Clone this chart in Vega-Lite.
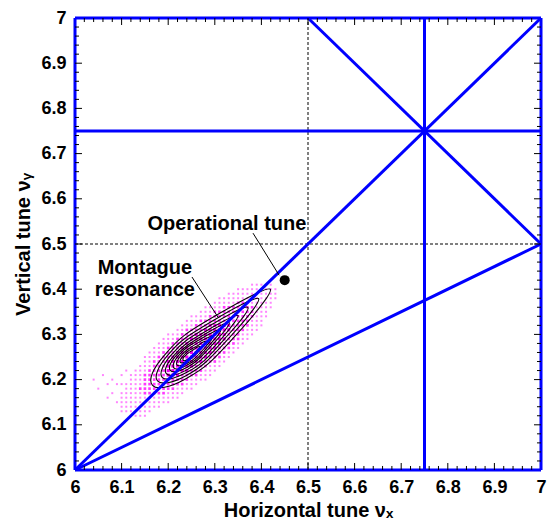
{
  "$schema": "https://vega.github.io/schema/vega-lite/v6.json",
  "width": 466,
  "height": 452,
  "autosize": {"type": "none"},
  "padding": {"left": 75, "top": 18, "right": 7, "bottom": 50},
  "background": "white",
  "config": {
    "view": {"stroke": null},
    "font": "Liberation Sans",
    "axis": {
      "grid": false,
      "domain": false,
      "ticks": false,
      "labelFont": "Liberation Sans",
      "labelFontWeight": "bold",
      "labelFontSize": 18,
      "labelColor": "black",
      "labelFlush": false,
      "titleFont": "Liberation Sans",
      "titleFontWeight": "bold",
      "titleFontSize": 20,
      "titleColor": "black"
    }
  },
  "datasets": {
    "dots": [
      {"x":6.12,"y":6.12,"d":1},{"x":6.13,"y":6.12,"d":1},{"x":6.14,"y":6.12,"d":1},{"x":6.15,"y":6.12,"d":1},
      {"x":6.10,"y":6.13,"d":1},{"x":6.11,"y":6.13,"d":1},{"x":6.12,"y":6.13,"d":1},{"x":6.13,"y":6.13,"d":1},{"x":6.14,"y":6.13,"d":1},{"x":6.15,"y":6.13,"d":1},{"x":6.16,"y":6.13,"d":1},
      {"x":6.10,"y":6.14,"d":1},{"x":6.11,"y":6.14,"d":1},{"x":6.12,"y":6.14,"d":1},{"x":6.13,"y":6.14,"d":1},{"x":6.14,"y":6.14,"d":1},{"x":6.15,"y":6.14,"d":1},{"x":6.16,"y":6.14,"d":1},{"x":6.17,"y":6.14,"d":1},{"x":6.18,"y":6.14,"d":1},
      {"x":6.09,"y":6.15,"d":1},{"x":6.10,"y":6.15,"d":1},{"x":6.11,"y":6.15,"d":1},{"x":6.12,"y":6.15,"d":1},{"x":6.13,"y":6.15,"d":1},{"x":6.14,"y":6.15,"d":1},{"x":6.15,"y":6.15,"d":1},{"x":6.16,"y":6.15,"d":1},{"x":6.17,"y":6.15,"d":1},{"x":6.18,"y":6.15,"d":1},{"x":6.19,"y":6.15,"d":1},{"x":6.20,"y":6.15,"d":1},
      {"x":6.07,"y":6.16,"d":1},{"x":6.10,"y":6.16,"d":1},{"x":6.11,"y":6.16,"d":1},{"x":6.12,"y":6.16,"d":1},{"x":6.13,"y":6.16,"d":1},{"x":6.14,"y":6.16,"d":1},{"x":6.15,"y":6.16,"d":1},{"x":6.16,"y":6.16,"d":1},{"x":6.17,"y":6.16,"d":1},{"x":6.18,"y":6.16,"d":1},{"x":6.19,"y":6.16,"d":1},{"x":6.20,"y":6.16,"d":1},{"x":6.21,"y":6.16,"d":1},{"x":6.22,"y":6.16,"d":1},
      {"x":6.08,"y":6.17,"d":1},{"x":6.10,"y":6.17,"d":1},{"x":6.11,"y":6.17,"d":1},{"x":6.12,"y":6.17,"d":1},{"x":6.13,"y":6.17,"d":1},{"x":6.14,"y":6.17,"d":1},{"x":6.15,"y":6.17,"d":2},{"x":6.16,"y":6.17,"d":2},{"x":6.17,"y":6.17,"d":2},{"x":6.18,"y":6.17,"d":2},{"x":6.19,"y":6.17,"d":2},{"x":6.20,"y":6.17,"d":1},{"x":6.21,"y":6.17,"d":1},{"x":6.22,"y":6.17,"d":1},{"x":6.23,"y":6.17,"d":1},
      {"x":6.05,"y":6.18,"d":1},{"x":6.11,"y":6.18,"d":1},{"x":6.12,"y":6.18,"d":1},{"x":6.13,"y":6.18,"d":1},{"x":6.14,"y":6.18,"d":2},{"x":6.15,"y":6.18,"d":2},{"x":6.16,"y":6.18,"d":2},{"x":6.17,"y":6.18,"d":2},{"x":6.18,"y":6.18,"d":2},{"x":6.19,"y":6.18,"d":2},{"x":6.20,"y":6.18,"d":2},{"x":6.21,"y":6.18,"d":2},{"x":6.22,"y":6.18,"d":1},{"x":6.23,"y":6.18,"d":1},{"x":6.24,"y":6.18,"d":1},{"x":6.25,"y":6.18,"d":1},
      {"x":6.07,"y":6.19,"d":1},{"x":6.09,"y":6.19,"d":1},{"x":6.10,"y":6.19,"d":1},{"x":6.11,"y":6.19,"d":1},{"x":6.12,"y":6.19,"d":1},{"x":6.13,"y":6.19,"d":1},{"x":6.14,"y":6.19,"d":1},{"x":6.15,"y":6.19,"d":2},{"x":6.16,"y":6.19,"d":2},{"x":6.17,"y":6.19,"d":2},{"x":6.18,"y":6.19,"d":2},{"x":6.19,"y":6.19,"d":2},{"x":6.20,"y":6.19,"d":2},{"x":6.21,"y":6.19,"d":2},{"x":6.22,"y":6.19,"d":2},{"x":6.23,"y":6.19,"d":2},{"x":6.24,"y":6.19,"d":1},{"x":6.25,"y":6.19,"d":1},{"x":6.26,"y":6.19,"d":1},
      {"x":6.04,"y":6.20,"d":1},{"x":6.08,"y":6.20,"d":1},{"x":6.12,"y":6.20,"d":1},{"x":6.13,"y":6.20,"d":1},{"x":6.14,"y":6.20,"d":1},{"x":6.15,"y":6.20,"d":2},{"x":6.16,"y":6.20,"d":2},{"x":6.17,"y":6.20,"d":2},{"x":6.18,"y":6.20,"d":2},{"x":6.19,"y":6.20,"d":2},{"x":6.20,"y":6.20,"d":2},{"x":6.21,"y":6.20,"d":2},{"x":6.22,"y":6.20,"d":2},{"x":6.23,"y":6.20,"d":2},{"x":6.24,"y":6.20,"d":2},{"x":6.25,"y":6.20,"d":1},{"x":6.26,"y":6.20,"d":1},{"x":6.27,"y":6.20,"d":1},{"x":6.28,"y":6.20,"d":1},
      {"x":6.06,"y":6.21,"d":1},{"x":6.10,"y":6.21,"d":1},{"x":6.12,"y":6.21,"d":1},{"x":6.13,"y":6.21,"d":1},{"x":6.14,"y":6.21,"d":1},{"x":6.15,"y":6.21,"d":2},{"x":6.16,"y":6.21,"d":2},{"x":6.17,"y":6.21,"d":2},{"x":6.18,"y":6.21,"d":2},{"x":6.19,"y":6.21,"d":2},{"x":6.20,"y":6.21,"d":3},{"x":6.21,"y":6.21,"d":3},{"x":6.22,"y":6.21,"d":3},{"x":6.23,"y":6.21,"d":2},{"x":6.24,"y":6.21,"d":2},{"x":6.25,"y":6.21,"d":2},{"x":6.26,"y":6.21,"d":2},{"x":6.27,"y":6.21,"d":1},{"x":6.28,"y":6.21,"d":1},{"x":6.29,"y":6.21,"d":1},
      {"x":6.11,"y":6.22,"d":1},{"x":6.13,"y":6.22,"d":1},{"x":6.14,"y":6.22,"d":1},{"x":6.15,"y":6.22,"d":1},{"x":6.16,"y":6.22,"d":2},{"x":6.17,"y":6.22,"d":2},{"x":6.18,"y":6.22,"d":2},{"x":6.19,"y":6.22,"d":2},{"x":6.20,"y":6.22,"d":3},{"x":6.21,"y":6.22,"d":3},{"x":6.22,"y":6.22,"d":3},{"x":6.23,"y":6.22,"d":3},{"x":6.24,"y":6.22,"d":3},{"x":6.25,"y":6.22,"d":2},{"x":6.26,"y":6.22,"d":2},{"x":6.27,"y":6.22,"d":2},{"x":6.28,"y":6.22,"d":1},{"x":6.29,"y":6.22,"d":1},{"x":6.30,"y":6.22,"d":1},
      {"x":6.14,"y":6.23,"d":1},{"x":6.15,"y":6.23,"d":1},{"x":6.16,"y":6.23,"d":1},{"x":6.17,"y":6.23,"d":2},{"x":6.18,"y":6.23,"d":2},{"x":6.19,"y":6.23,"d":2},{"x":6.20,"y":6.23,"d":3},{"x":6.21,"y":6.23,"d":3},{"x":6.22,"y":6.23,"d":3},{"x":6.23,"y":6.23,"d":3},{"x":6.24,"y":6.23,"d":3},{"x":6.25,"y":6.23,"d":3},{"x":6.26,"y":6.23,"d":2},{"x":6.27,"y":6.23,"d":2},{"x":6.28,"y":6.23,"d":2},{"x":6.29,"y":6.23,"d":1},{"x":6.30,"y":6.23,"d":1},{"x":6.31,"y":6.23,"d":1},
      {"x":6.15,"y":6.24,"d":1},{"x":6.16,"y":6.24,"d":1},{"x":6.17,"y":6.24,"d":2},{"x":6.18,"y":6.24,"d":2},{"x":6.19,"y":6.24,"d":2},{"x":6.20,"y":6.24,"d":3},{"x":6.21,"y":6.24,"d":3},{"x":6.22,"y":6.24,"d":3},{"x":6.23,"y":6.24,"d":3},{"x":6.24,"y":6.24,"d":3},{"x":6.25,"y":6.24,"d":3},{"x":6.26,"y":6.24,"d":3},{"x":6.27,"y":6.24,"d":3},{"x":6.28,"y":6.24,"d":2},{"x":6.29,"y":6.24,"d":2},{"x":6.30,"y":6.24,"d":2},{"x":6.31,"y":6.24,"d":1},{"x":6.32,"y":6.24,"d":1},
      {"x":6.15,"y":6.25,"d":1},{"x":6.16,"y":6.25,"d":1},{"x":6.17,"y":6.25,"d":1},{"x":6.18,"y":6.25,"d":2},{"x":6.19,"y":6.25,"d":2},{"x":6.20,"y":6.25,"d":2},{"x":6.21,"y":6.25,"d":3},{"x":6.22,"y":6.25,"d":3},{"x":6.23,"y":6.25,"d":3},{"x":6.24,"y":6.25,"d":3},{"x":6.25,"y":6.25,"d":3},{"x":6.26,"y":6.25,"d":3},{"x":6.27,"y":6.25,"d":3},{"x":6.28,"y":6.25,"d":3},{"x":6.29,"y":6.25,"d":2},{"x":6.30,"y":6.25,"d":2},{"x":6.31,"y":6.25,"d":2},{"x":6.32,"y":6.25,"d":1},{"x":6.33,"y":6.25,"d":1},
      {"x":6.16,"y":6.26,"d":1},{"x":6.17,"y":6.26,"d":1},{"x":6.18,"y":6.26,"d":1},{"x":6.19,"y":6.26,"d":2},{"x":6.20,"y":6.26,"d":2},{"x":6.21,"y":6.26,"d":2},{"x":6.22,"y":6.26,"d":3},{"x":6.23,"y":6.26,"d":3},{"x":6.24,"y":6.26,"d":3},{"x":6.25,"y":6.26,"d":3},{"x":6.26,"y":6.26,"d":3},{"x":6.27,"y":6.26,"d":3},{"x":6.28,"y":6.26,"d":3},{"x":6.29,"y":6.26,"d":3},{"x":6.30,"y":6.26,"d":2},{"x":6.31,"y":6.26,"d":2},{"x":6.32,"y":6.26,"d":2},{"x":6.33,"y":6.26,"d":1},{"x":6.34,"y":6.26,"d":1},
      {"x":6.17,"y":6.27,"d":1},{"x":6.18,"y":6.27,"d":1},{"x":6.19,"y":6.27,"d":1},{"x":6.20,"y":6.27,"d":2},{"x":6.21,"y":6.27,"d":2},{"x":6.22,"y":6.27,"d":2},{"x":6.23,"y":6.27,"d":3},{"x":6.24,"y":6.27,"d":3},{"x":6.25,"y":6.27,"d":3},{"x":6.26,"y":6.27,"d":3},{"x":6.27,"y":6.27,"d":3},{"x":6.28,"y":6.27,"d":3},{"x":6.29,"y":6.27,"d":3},{"x":6.30,"y":6.27,"d":3},{"x":6.31,"y":6.27,"d":2},{"x":6.32,"y":6.27,"d":2},{"x":6.33,"y":6.27,"d":2},{"x":6.34,"y":6.27,"d":1},{"x":6.35,"y":6.27,"d":1},
      {"x":6.18,"y":6.28,"d":1},{"x":6.19,"y":6.28,"d":1},{"x":6.20,"y":6.28,"d":1},{"x":6.21,"y":6.28,"d":2},{"x":6.22,"y":6.28,"d":2},{"x":6.23,"y":6.28,"d":2},{"x":6.24,"y":6.28,"d":3},{"x":6.25,"y":6.28,"d":3},{"x":6.26,"y":6.28,"d":3},{"x":6.27,"y":6.28,"d":3},{"x":6.28,"y":6.28,"d":3},{"x":6.29,"y":6.28,"d":3},{"x":6.30,"y":6.28,"d":3},{"x":6.31,"y":6.28,"d":3},{"x":6.32,"y":6.28,"d":2},{"x":6.33,"y":6.28,"d":2},{"x":6.34,"y":6.28,"d":2},{"x":6.35,"y":6.28,"d":1},{"x":6.36,"y":6.28,"d":1},
      {"x":6.19,"y":6.29,"d":1},{"x":6.20,"y":6.29,"d":1},{"x":6.21,"y":6.29,"d":1},{"x":6.22,"y":6.29,"d":2},{"x":6.23,"y":6.29,"d":2},{"x":6.24,"y":6.29,"d":2},{"x":6.25,"y":6.29,"d":3},{"x":6.26,"y":6.29,"d":3},{"x":6.27,"y":6.29,"d":3},{"x":6.28,"y":6.29,"d":3},{"x":6.29,"y":6.29,"d":3},{"x":6.30,"y":6.29,"d":3},{"x":6.31,"y":6.29,"d":3},{"x":6.32,"y":6.29,"d":3},{"x":6.33,"y":6.29,"d":2},{"x":6.34,"y":6.29,"d":2},{"x":6.35,"y":6.29,"d":2},{"x":6.36,"y":6.29,"d":1},{"x":6.37,"y":6.29,"d":1},
      {"x":6.20,"y":6.30,"d":1},{"x":6.21,"y":6.30,"d":1},{"x":6.22,"y":6.30,"d":1},{"x":6.23,"y":6.30,"d":2},{"x":6.24,"y":6.30,"d":2},{"x":6.25,"y":6.30,"d":2},{"x":6.26,"y":6.30,"d":3},{"x":6.27,"y":6.30,"d":3},{"x":6.28,"y":6.30,"d":3},{"x":6.29,"y":6.30,"d":3},{"x":6.30,"y":6.30,"d":3},{"x":6.31,"y":6.30,"d":3},{"x":6.32,"y":6.30,"d":3},{"x":6.33,"y":6.30,"d":2},{"x":6.34,"y":6.30,"d":2},{"x":6.35,"y":6.30,"d":2},{"x":6.36,"y":6.30,"d":1},{"x":6.37,"y":6.30,"d":1},{"x":6.38,"y":6.30,"d":1},
      {"x":6.22,"y":6.31,"d":1},{"x":6.23,"y":6.31,"d":1},{"x":6.24,"y":6.31,"d":2},{"x":6.25,"y":6.31,"d":2},{"x":6.26,"y":6.31,"d":2},{"x":6.27,"y":6.31,"d":2},{"x":6.28,"y":6.31,"d":3},{"x":6.29,"y":6.31,"d":3},{"x":6.30,"y":6.31,"d":3},{"x":6.31,"y":6.31,"d":3},{"x":6.32,"y":6.31,"d":3},{"x":6.33,"y":6.31,"d":3},{"x":6.34,"y":6.31,"d":2},{"x":6.35,"y":6.31,"d":2},{"x":6.36,"y":6.31,"d":2},{"x":6.37,"y":6.31,"d":1},{"x":6.38,"y":6.31,"d":1},{"x":6.39,"y":6.31,"d":1},
      {"x":6.23,"y":6.32,"d":1},{"x":6.24,"y":6.32,"d":1},{"x":6.25,"y":6.32,"d":1},{"x":6.26,"y":6.32,"d":2},{"x":6.27,"y":6.32,"d":2},{"x":6.28,"y":6.32,"d":2},{"x":6.29,"y":6.32,"d":3},{"x":6.30,"y":6.32,"d":3},{"x":6.31,"y":6.32,"d":3},{"x":6.32,"y":6.32,"d":3},{"x":6.33,"y":6.32,"d":3},{"x":6.34,"y":6.32,"d":2},{"x":6.35,"y":6.32,"d":2},{"x":6.36,"y":6.32,"d":2},{"x":6.37,"y":6.32,"d":2},{"x":6.38,"y":6.32,"d":1},{"x":6.39,"y":6.32,"d":1},{"x":6.40,"y":6.32,"d":1},
      {"x":6.24,"y":6.33,"d":1},{"x":6.25,"y":6.33,"d":1},{"x":6.26,"y":6.33,"d":1},{"x":6.27,"y":6.33,"d":2},{"x":6.28,"y":6.33,"d":2},{"x":6.29,"y":6.33,"d":2},{"x":6.30,"y":6.33,"d":2},{"x":6.31,"y":6.33,"d":2},{"x":6.32,"y":6.33,"d":2},{"x":6.33,"y":6.33,"d":2},{"x":6.34,"y":6.33,"d":2},{"x":6.35,"y":6.33,"d":2},{"x":6.36,"y":6.33,"d":2},{"x":6.37,"y":6.33,"d":2},{"x":6.38,"y":6.33,"d":1},{"x":6.39,"y":6.33,"d":1},{"x":6.40,"y":6.33,"d":1},
      {"x":6.25,"y":6.34,"d":1},{"x":6.26,"y":6.34,"d":1},{"x":6.27,"y":6.34,"d":1},{"x":6.28,"y":6.34,"d":1},{"x":6.29,"y":6.34,"d":2},{"x":6.30,"y":6.34,"d":2},{"x":6.31,"y":6.34,"d":2},{"x":6.32,"y":6.34,"d":2},{"x":6.33,"y":6.34,"d":2},{"x":6.34,"y":6.34,"d":2},{"x":6.35,"y":6.34,"d":2},{"x":6.36,"y":6.34,"d":2},{"x":6.37,"y":6.34,"d":2},{"x":6.38,"y":6.34,"d":2},{"x":6.39,"y":6.34,"d":1},{"x":6.40,"y":6.34,"d":1},{"x":6.41,"y":6.34,"d":1},
      {"x":6.27,"y":6.35,"d":1},{"x":6.28,"y":6.35,"d":1},{"x":6.29,"y":6.35,"d":1},{"x":6.30,"y":6.35,"d":2},{"x":6.31,"y":6.35,"d":2},{"x":6.32,"y":6.35,"d":2},{"x":6.33,"y":6.35,"d":2},{"x":6.34,"y":6.35,"d":2},{"x":6.35,"y":6.35,"d":2},{"x":6.36,"y":6.35,"d":2},{"x":6.37,"y":6.35,"d":2},{"x":6.38,"y":6.35,"d":2},{"x":6.39,"y":6.35,"d":1},{"x":6.40,"y":6.35,"d":1},{"x":6.41,"y":6.35,"d":1},
      {"x":6.28,"y":6.36,"d":1},{"x":6.29,"y":6.36,"d":1},{"x":6.30,"y":6.36,"d":1},{"x":6.31,"y":6.36,"d":1},{"x":6.32,"y":6.36,"d":2},{"x":6.33,"y":6.36,"d":2},{"x":6.34,"y":6.36,"d":2},{"x":6.35,"y":6.36,"d":2},{"x":6.36,"y":6.36,"d":2},{"x":6.37,"y":6.36,"d":2},{"x":6.38,"y":6.36,"d":2},{"x":6.39,"y":6.36,"d":1},{"x":6.40,"y":6.36,"d":1},{"x":6.41,"y":6.36,"d":1},{"x":6.42,"y":6.36,"d":1},
      {"x":6.30,"y":6.37,"d":1},{"x":6.31,"y":6.37,"d":1},{"x":6.32,"y":6.37,"d":1},{"x":6.33,"y":6.37,"d":1},{"x":6.34,"y":6.37,"d":1},{"x":6.35,"y":6.37,"d":2},{"x":6.36,"y":6.37,"d":2},{"x":6.37,"y":6.37,"d":2},{"x":6.38,"y":6.37,"d":1},{"x":6.39,"y":6.37,"d":1},{"x":6.40,"y":6.37,"d":1},{"x":6.41,"y":6.37,"d":1},{"x":6.42,"y":6.37,"d":1},
      {"x":6.31,"y":6.38,"d":1},{"x":6.32,"y":6.38,"d":1},{"x":6.33,"y":6.38,"d":1},{"x":6.34,"y":6.38,"d":1},{"x":6.35,"y":6.38,"d":1},{"x":6.36,"y":6.38,"d":1},{"x":6.37,"y":6.38,"d":1},{"x":6.38,"y":6.38,"d":1},{"x":6.39,"y":6.38,"d":1},{"x":6.40,"y":6.38,"d":1},{"x":6.41,"y":6.38,"d":1},{"x":6.42,"y":6.38,"d":1},{"x":6.43,"y":6.38,"d":1},
      {"x":6.33,"y":6.39,"d":1},{"x":6.34,"y":6.39,"d":1},{"x":6.35,"y":6.39,"d":1},{"x":6.36,"y":6.39,"d":1},{"x":6.37,"y":6.39,"d":1},{"x":6.38,"y":6.39,"d":1},{"x":6.39,"y":6.39,"d":1},{"x":6.40,"y":6.39,"d":1},{"x":6.41,"y":6.39,"d":1},{"x":6.42,"y":6.39,"d":1},{"x":6.43,"y":6.39,"d":1},
      {"x":6.35,"y":6.40,"d":1},{"x":6.36,"y":6.40,"d":1},{"x":6.37,"y":6.40,"d":1},{"x":6.38,"y":6.40,"d":1},{"x":6.39,"y":6.40,"d":1},{"x":6.40,"y":6.40,"d":1},{"x":6.41,"y":6.40,"d":1},{"x":6.42,"y":6.40,"d":1},{"x":6.43,"y":6.40,"d":1},
      {"x":6.38,"y":6.41,"d":1},{"x":6.39,"y":6.41,"d":1},{"x":6.40,"y":6.41,"d":1},{"x":6.41,"y":6.41,"d":1},{"x":6.42,"y":6.41,"d":1}
    ],
    "contours": [
      {"c":1,"o":0,"x":6.419,"y":6.400},{"c":1,"o":1,"x":6.390,"y":6.391},{"c":1,"o":2,"x":6.323,"y":6.354},{"c":1,"o":3,"x":6.236,"y":6.299},{"c":1,"o":4,"x":6.192,"y":6.254},{"c":1,"o":5,"x":6.166,"y":6.214},{"c":1,"o":6,"x":6.166,"y":6.188},{"c":1,"o":7,"x":6.192,"y":6.183},{"c":1,"o":8,"x":6.236,"y":6.201},{"c":1,"o":9,"x":6.288,"y":6.237},{"c":1,"o":10,"x":6.358,"y":6.313},{"c":1,"o":11,"x":6.406,"y":6.373},
      {"c":2,"o":0,"x":6.394,"y":6.379},{"c":2,"o":1,"x":6.370,"y":6.372},{"c":2,"o":2,"x":6.312,"y":6.340},{"c":2,"o":3,"x":6.237,"y":6.292},{"c":2,"o":4,"x":6.199,"y":6.254},{"c":2,"o":5,"x":6.177,"y":6.219},{"c":2,"o":6,"x":6.177,"y":6.197},{"c":2,"o":7,"x":6.199,"y":6.193},{"c":2,"o":8,"x":6.237,"y":6.208},{"c":2,"o":9,"x":6.281,"y":6.239},{"c":2,"o":10,"x":6.342,"y":6.305},{"c":2,"o":11,"x":6.383,"y":6.356},
      {"c":3,"o":0,"x":6.371,"y":6.360},{"c":3,"o":1,"x":6.350,"y":6.354},{"c":3,"o":2,"x":6.302,"y":6.327},{"c":3,"o":3,"x":6.238,"y":6.286},{"c":3,"o":4,"x":6.206,"y":6.254},{"c":3,"o":5,"x":6.187,"y":6.224},{"c":3,"o":6,"x":6.187,"y":6.205},{"c":3,"o":7,"x":6.206,"y":6.202},{"c":3,"o":8,"x":6.238,"y":6.215},{"c":3,"o":9,"x":6.276,"y":6.241},{"c":3,"o":10,"x":6.327,"y":6.297},{"c":3,"o":11,"x":6.362,"y":6.340},
      {"c":4,"o":0,"x":6.350,"y":6.342},{"c":4,"o":1,"x":6.333,"y":6.337},{"c":4,"o":2,"x":6.292,"y":6.314},{"c":4,"o":3,"x":6.239,"y":6.280},{"c":4,"o":4,"x":6.212,"y":6.253},{"c":4,"o":5,"x":6.196,"y":6.229},{"c":4,"o":6,"x":6.196,"y":6.213},{"c":4,"o":7,"x":6.212,"y":6.210},{"c":4,"o":8,"x":6.239,"y":6.221},{"c":4,"o":9,"x":6.270,"y":6.243},{"c":4,"o":10,"x":6.313,"y":6.289},{"c":4,"o":11,"x":6.342,"y":6.326},
      {"c":5,"o":0,"x":6.331,"y":6.326},{"c":5,"o":1,"x":6.317,"y":6.322},{"c":5,"o":2,"x":6.283,"y":6.303},{"c":5,"o":3,"x":6.240,"y":6.275},{"c":5,"o":4,"x":6.217,"y":6.253},{"c":5,"o":5,"x":6.204,"y":6.233},{"c":5,"o":6,"x":6.205,"y":6.220},{"c":5,"o":7,"x":6.217,"y":6.218},{"c":5,"o":8,"x":6.240,"y":6.227},{"c":5,"o":9,"x":6.265,"y":6.245},{"c":5,"o":10,"x":6.300,"y":6.283},{"c":5,"o":11,"x":6.324,"y":6.312},
      {"c":6,"o":0,"x":6.313,"y":6.311},{"c":6,"o":1,"x":6.302,"y":6.308},{"c":6,"o":2,"x":6.275,"y":6.293},{"c":6,"o":3,"x":6.240,"y":6.271},{"c":6,"o":4,"x":6.222,"y":6.253},{"c":6,"o":5,"x":6.212,"y":6.237},{"c":6,"o":6,"x":6.212,"y":6.226},{"c":6,"o":7,"x":6.223,"y":6.224},{"c":6,"o":8,"x":6.240,"y":6.232},{"c":6,"o":9,"x":6.261,"y":6.246},{"c":6,"o":10,"x":6.289,"y":6.277},{"c":6,"o":11,"x":6.308,"y":6.300},
      {"c":7,"o":0,"x":6.298,"y":6.298},{"c":7,"o":1,"x":6.289,"y":6.295},{"c":7,"o":2,"x":6.268,"y":6.284},{"c":7,"o":3,"x":6.241,"y":6.266},{"c":7,"o":4,"x":6.227,"y":6.253},{"c":7,"o":5,"x":6.219,"y":6.240},{"c":7,"o":6,"x":6.219,"y":6.232},{"c":7,"o":7,"x":6.227,"y":6.231},{"c":7,"o":8,"x":6.241,"y":6.236},{"c":7,"o":9,"x":6.257,"y":6.247},{"c":7,"o":10,"x":6.279,"y":6.271},{"c":7,"o":11,"x":6.293,"y":6.289},
      {"c":8,"o":0,"x":6.282,"y":6.284},{"c":8,"o":1,"x":6.275,"y":6.283},{"c":8,"o":2,"x":6.261,"y":6.274},{"c":8,"o":3,"x":6.241,"y":6.262},{"c":8,"o":4,"x":6.232,"y":6.252},{"c":8,"o":5,"x":6.226,"y":6.244},{"c":8,"o":6,"x":6.226,"y":6.238},{"c":8,"o":7,"x":6.232,"y":6.237},{"c":8,"o":8,"x":6.241,"y":6.241},{"c":8,"o":9,"x":6.253,"y":6.249},{"c":8,"o":10,"x":6.268,"y":6.265},{"c":8,"o":11,"x":6.279,"y":6.279},
      {"c":9,"o":0,"x":6.268,"y":6.273},{"c":9,"o":1,"x":6.263,"y":6.272},{"c":9,"o":2,"x":6.254,"y":6.266},{"c":9,"o":3,"x":6.242,"y":6.258},{"c":9,"o":4,"x":6.236,"y":6.252},{"c":9,"o":5,"x":6.232,"y":6.247},{"c":9,"o":6,"x":6.232,"y":6.243},{"c":9,"o":7,"x":6.236,"y":6.242},{"c":9,"o":8,"x":6.242,"y":6.245},{"c":9,"o":9,"x":6.249,"y":6.250},{"c":9,"o":10,"x":6.259,"y":6.261},{"c":9,"o":11,"x":6.266,"y":6.269}
    ],
    "resonances": [
      {"x":6,"y":6,"x2":7,"y2":7},
      {"x":6,"y":6,"x2":7,"y2":6.5},
      {"x":6.5,"y":7,"x2":7,"y2":6.5},
      {"x":6.75,"y":6,"x2":6.75,"y2":7},
      {"x":6,"y":6.75,"x2":7,"y2":6.75},
      {"x":6,"y":6,"x2":7,"y2":6},
      {"x":6,"y":7,"x2":7,"y2":7},
      {"x":6,"y":6,"x2":6,"y2":7},
      {"x":7,"y":6,"x2":7,"y2":7}
    ],
    "halfInteger": [
      {"x":6.5,"y":6,"x2":6.5,"y2":7},
      {"x":6,"y":6.5,"x2":7,"y2":6.5}
    ],
    "leaders": [
      {"x":6.382,"y":6.524,"x2":6.438,"y2":6.431},
      {"x":6.251,"y":6.427,"x2":6.307,"y2":6.338}
    ],
    "tune": [{"x":6.45,"y":6.42}],
    "notes": [
      {"x":6.326,"y":6.531,"t":"Operational tune"},
      {"x":6.150,"y":6.434,"t":"Montague\nresonance"}
    ],
    "frameTicks": [
      {"x":6.02,"y":6,"x2":6.02,"y2":6.0089},{"x":6.04,"y":6,"x2":6.04,"y2":6.0089},{"x":6.06,"y":6,"x2":6.06,"y2":6.0089},{"x":6.08,"y":6,"x2":6.08,"y2":6.0089},{"x":6.1,"y":6,"x2":6.1,"y2":6.0155},
      {"x":6.12,"y":6,"x2":6.12,"y2":6.0089},{"x":6.14,"y":6,"x2":6.14,"y2":6.0089},{"x":6.16,"y":6,"x2":6.16,"y2":6.0089},{"x":6.18,"y":6,"x2":6.18,"y2":6.0089},{"x":6.2,"y":6,"x2":6.2,"y2":6.0155},
      {"x":6.22,"y":6,"x2":6.22,"y2":6.0089},{"x":6.24,"y":6,"x2":6.24,"y2":6.0089},{"x":6.26,"y":6,"x2":6.26,"y2":6.0089},{"x":6.28,"y":6,"x2":6.28,"y2":6.0089},{"x":6.3,"y":6,"x2":6.3,"y2":6.0155},
      {"x":6.32,"y":6,"x2":6.32,"y2":6.0089},{"x":6.34,"y":6,"x2":6.34,"y2":6.0089},{"x":6.36,"y":6,"x2":6.36,"y2":6.0089},{"x":6.38,"y":6,"x2":6.38,"y2":6.0089},{"x":6.4,"y":6,"x2":6.4,"y2":6.0155},
      {"x":6.42,"y":6,"x2":6.42,"y2":6.0089},{"x":6.44,"y":6,"x2":6.44,"y2":6.0089},{"x":6.46,"y":6,"x2":6.46,"y2":6.0089},{"x":6.48,"y":6,"x2":6.48,"y2":6.0089},{"x":6.5,"y":6,"x2":6.5,"y2":6.0155},
      {"x":6.52,"y":6,"x2":6.52,"y2":6.0089},{"x":6.54,"y":6,"x2":6.54,"y2":6.0089},{"x":6.56,"y":6,"x2":6.56,"y2":6.0089},{"x":6.58,"y":6,"x2":6.58,"y2":6.0089},{"x":6.6,"y":6,"x2":6.6,"y2":6.0155},
      {"x":6.62,"y":6,"x2":6.62,"y2":6.0089},{"x":6.64,"y":6,"x2":6.64,"y2":6.0089},{"x":6.66,"y":6,"x2":6.66,"y2":6.0089},{"x":6.68,"y":6,"x2":6.68,"y2":6.0089},{"x":6.7,"y":6,"x2":6.7,"y2":6.0155},
      {"x":6.72,"y":6,"x2":6.72,"y2":6.0089},{"x":6.74,"y":6,"x2":6.74,"y2":6.0089},{"x":6.76,"y":6,"x2":6.76,"y2":6.0089},{"x":6.78,"y":6,"x2":6.78,"y2":6.0089},{"x":6.8,"y":6,"x2":6.8,"y2":6.0155},
      {"x":6.82,"y":6,"x2":6.82,"y2":6.0089},{"x":6.84,"y":6,"x2":6.84,"y2":6.0089},{"x":6.86,"y":6,"x2":6.86,"y2":6.0089},{"x":6.88,"y":6,"x2":6.88,"y2":6.0089},{"x":6.9,"y":6,"x2":6.9,"y2":6.0155},
      {"x":6.92,"y":6,"x2":6.92,"y2":6.0089},{"x":6.94,"y":6,"x2":6.94,"y2":6.0089},{"x":6.96,"y":6,"x2":6.96,"y2":6.0089},{"x":6.98,"y":6,"x2":6.98,"y2":6.0089},
      {"x":6.02,"y":7,"x2":6.02,"y2":6.9911},{"x":6.04,"y":7,"x2":6.04,"y2":6.9911},{"x":6.06,"y":7,"x2":6.06,"y2":6.9911},{"x":6.08,"y":7,"x2":6.08,"y2":6.9911},{"x":6.1,"y":7,"x2":6.1,"y2":6.9845},
      {"x":6.12,"y":7,"x2":6.12,"y2":6.9911},{"x":6.14,"y":7,"x2":6.14,"y2":6.9911},{"x":6.16,"y":7,"x2":6.16,"y2":6.9911},{"x":6.18,"y":7,"x2":6.18,"y2":6.9911},{"x":6.2,"y":7,"x2":6.2,"y2":6.9845},
      {"x":6.22,"y":7,"x2":6.22,"y2":6.9911},{"x":6.24,"y":7,"x2":6.24,"y2":6.9911},{"x":6.26,"y":7,"x2":6.26,"y2":6.9911},{"x":6.28,"y":7,"x2":6.28,"y2":6.9911},{"x":6.3,"y":7,"x2":6.3,"y2":6.9845},
      {"x":6.32,"y":7,"x2":6.32,"y2":6.9911},{"x":6.34,"y":7,"x2":6.34,"y2":6.9911},{"x":6.36,"y":7,"x2":6.36,"y2":6.9911},{"x":6.38,"y":7,"x2":6.38,"y2":6.9911},{"x":6.4,"y":7,"x2":6.4,"y2":6.9845},
      {"x":6.42,"y":7,"x2":6.42,"y2":6.9911},{"x":6.44,"y":7,"x2":6.44,"y2":6.9911},{"x":6.46,"y":7,"x2":6.46,"y2":6.9911},{"x":6.48,"y":7,"x2":6.48,"y2":6.9911},{"x":6.5,"y":7,"x2":6.5,"y2":6.9845},
      {"x":6.52,"y":7,"x2":6.52,"y2":6.9911},{"x":6.54,"y":7,"x2":6.54,"y2":6.9911},{"x":6.56,"y":7,"x2":6.56,"y2":6.9911},{"x":6.58,"y":7,"x2":6.58,"y2":6.9911},{"x":6.6,"y":7,"x2":6.6,"y2":6.9845},
      {"x":6.62,"y":7,"x2":6.62,"y2":6.9911},{"x":6.64,"y":7,"x2":6.64,"y2":6.9911},{"x":6.66,"y":7,"x2":6.66,"y2":6.9911},{"x":6.68,"y":7,"x2":6.68,"y2":6.9911},{"x":6.7,"y":7,"x2":6.7,"y2":6.9845},
      {"x":6.72,"y":7,"x2":6.72,"y2":6.9911},{"x":6.74,"y":7,"x2":6.74,"y2":6.9911},{"x":6.76,"y":7,"x2":6.76,"y2":6.9911},{"x":6.78,"y":7,"x2":6.78,"y2":6.9911},{"x":6.8,"y":7,"x2":6.8,"y2":6.9845},
      {"x":6.82,"y":7,"x2":6.82,"y2":6.9911},{"x":6.84,"y":7,"x2":6.84,"y2":6.9911},{"x":6.86,"y":7,"x2":6.86,"y2":6.9911},{"x":6.88,"y":7,"x2":6.88,"y2":6.9911},{"x":6.9,"y":7,"x2":6.9,"y2":6.9845},
      {"x":6.92,"y":7,"x2":6.92,"y2":6.9911},{"x":6.94,"y":7,"x2":6.94,"y2":6.9911},{"x":6.96,"y":7,"x2":6.96,"y2":6.9911},{"x":6.98,"y":7,"x2":6.98,"y2":6.9911},
      {"x":6,"y":6.02,"x2":6.0086,"y2":6.02},{"x":6,"y":6.04,"x2":6.0086,"y2":6.04},{"x":6,"y":6.06,"x2":6.0086,"y2":6.06},{"x":6,"y":6.08,"x2":6.0086,"y2":6.08},{"x":6,"y":6.1,"x2":6.015,"y2":6.1},
      {"x":6,"y":6.12,"x2":6.0086,"y2":6.12},{"x":6,"y":6.14,"x2":6.0086,"y2":6.14},{"x":6,"y":6.16,"x2":6.0086,"y2":6.16},{"x":6,"y":6.18,"x2":6.0086,"y2":6.18},{"x":6,"y":6.2,"x2":6.015,"y2":6.2},
      {"x":6,"y":6.22,"x2":6.0086,"y2":6.22},{"x":6,"y":6.24,"x2":6.0086,"y2":6.24},{"x":6,"y":6.26,"x2":6.0086,"y2":6.26},{"x":6,"y":6.28,"x2":6.0086,"y2":6.28},{"x":6,"y":6.3,"x2":6.015,"y2":6.3},
      {"x":6,"y":6.32,"x2":6.0086,"y2":6.32},{"x":6,"y":6.34,"x2":6.0086,"y2":6.34},{"x":6,"y":6.36,"x2":6.0086,"y2":6.36},{"x":6,"y":6.38,"x2":6.0086,"y2":6.38},{"x":6,"y":6.4,"x2":6.015,"y2":6.4},
      {"x":6,"y":6.42,"x2":6.0086,"y2":6.42},{"x":6,"y":6.44,"x2":6.0086,"y2":6.44},{"x":6,"y":6.46,"x2":6.0086,"y2":6.46},{"x":6,"y":6.48,"x2":6.0086,"y2":6.48},{"x":6,"y":6.5,"x2":6.015,"y2":6.5},
      {"x":6,"y":6.52,"x2":6.0086,"y2":6.52},{"x":6,"y":6.54,"x2":6.0086,"y2":6.54},{"x":6,"y":6.56,"x2":6.0086,"y2":6.56},{"x":6,"y":6.58,"x2":6.0086,"y2":6.58},{"x":6,"y":6.6,"x2":6.015,"y2":6.6},
      {"x":6,"y":6.62,"x2":6.0086,"y2":6.62},{"x":6,"y":6.64,"x2":6.0086,"y2":6.64},{"x":6,"y":6.66,"x2":6.0086,"y2":6.66},{"x":6,"y":6.68,"x2":6.0086,"y2":6.68},{"x":6,"y":6.7,"x2":6.015,"y2":6.7},
      {"x":6,"y":6.72,"x2":6.0086,"y2":6.72},{"x":6,"y":6.74,"x2":6.0086,"y2":6.74},{"x":6,"y":6.76,"x2":6.0086,"y2":6.76},{"x":6,"y":6.78,"x2":6.0086,"y2":6.78},{"x":6,"y":6.8,"x2":6.015,"y2":6.8},
      {"x":6,"y":6.82,"x2":6.0086,"y2":6.82},{"x":6,"y":6.84,"x2":6.0086,"y2":6.84},{"x":6,"y":6.86,"x2":6.0086,"y2":6.86},{"x":6,"y":6.88,"x2":6.0086,"y2":6.88},{"x":6,"y":6.9,"x2":6.015,"y2":6.9},
      {"x":6,"y":6.92,"x2":6.0086,"y2":6.92},{"x":6,"y":6.94,"x2":6.0086,"y2":6.94},{"x":6,"y":6.96,"x2":6.0086,"y2":6.96},{"x":6,"y":6.98,"x2":6.0086,"y2":6.98},
      {"x":7,"y":6.02,"x2":6.9914,"y2":6.02},{"x":7,"y":6.04,"x2":6.9914,"y2":6.04},{"x":7,"y":6.06,"x2":6.9914,"y2":6.06},{"x":7,"y":6.08,"x2":6.9914,"y2":6.08},{"x":7,"y":6.1,"x2":6.985,"y2":6.1},
      {"x":7,"y":6.12,"x2":6.9914,"y2":6.12},{"x":7,"y":6.14,"x2":6.9914,"y2":6.14},{"x":7,"y":6.16,"x2":6.9914,"y2":6.16},{"x":7,"y":6.18,"x2":6.9914,"y2":6.18},{"x":7,"y":6.2,"x2":6.985,"y2":6.2},
      {"x":7,"y":6.22,"x2":6.9914,"y2":6.22},{"x":7,"y":6.24,"x2":6.9914,"y2":6.24},{"x":7,"y":6.26,"x2":6.9914,"y2":6.26},{"x":7,"y":6.28,"x2":6.9914,"y2":6.28},{"x":7,"y":6.3,"x2":6.985,"y2":6.3},
      {"x":7,"y":6.32,"x2":6.9914,"y2":6.32},{"x":7,"y":6.34,"x2":6.9914,"y2":6.34},{"x":7,"y":6.36,"x2":6.9914,"y2":6.36},{"x":7,"y":6.38,"x2":6.9914,"y2":6.38},{"x":7,"y":6.4,"x2":6.985,"y2":6.4},
      {"x":7,"y":6.42,"x2":6.9914,"y2":6.42},{"x":7,"y":6.44,"x2":6.9914,"y2":6.44},{"x":7,"y":6.46,"x2":6.9914,"y2":6.46},{"x":7,"y":6.48,"x2":6.9914,"y2":6.48},{"x":7,"y":6.5,"x2":6.985,"y2":6.5},
      {"x":7,"y":6.52,"x2":6.9914,"y2":6.52},{"x":7,"y":6.54,"x2":6.9914,"y2":6.54},{"x":7,"y":6.56,"x2":6.9914,"y2":6.56},{"x":7,"y":6.58,"x2":6.9914,"y2":6.58},{"x":7,"y":6.6,"x2":6.985,"y2":6.6},
      {"x":7,"y":6.62,"x2":6.9914,"y2":6.62},{"x":7,"y":6.64,"x2":6.9914,"y2":6.64},{"x":7,"y":6.66,"x2":6.9914,"y2":6.66},{"x":7,"y":6.68,"x2":6.9914,"y2":6.68},{"x":7,"y":6.7,"x2":6.985,"y2":6.7},
      {"x":7,"y":6.72,"x2":6.9914,"y2":6.72},{"x":7,"y":6.74,"x2":6.9914,"y2":6.74},{"x":7,"y":6.76,"x2":6.9914,"y2":6.76},{"x":7,"y":6.78,"x2":6.9914,"y2":6.78},{"x":7,"y":6.8,"x2":6.985,"y2":6.8},
      {"x":7,"y":6.82,"x2":6.9914,"y2":6.82},{"x":7,"y":6.84,"x2":6.9914,"y2":6.84},{"x":7,"y":6.86,"x2":6.9914,"y2":6.86},{"x":7,"y":6.88,"x2":6.9914,"y2":6.88},{"x":7,"y":6.9,"x2":6.985,"y2":6.9},
      {"x":7,"y":6.92,"x2":6.9914,"y2":6.92},{"x":7,"y":6.94,"x2":6.9914,"y2":6.94},{"x":7,"y":6.96,"x2":6.9914,"y2":6.96},{"x":7,"y":6.98,"x2":6.9914,"y2":6.98}
    ]
  },
  "layer": [
    {
      "data": {"name": "dots"},
      "mark": {"type": "point", "shape": "square", "filled": true, "opacity": 1, "strokeWidth": 0},
      "encoding": {
        "x": {
          "field": "x", "type": "quantitative",
          "scale": {"domain": [6, 7], "nice": false, "zero": false},
          "axis": {
            "orient": "bottom",
            "values": [6,6.1,6.2,6.3,6.4,6.5,6.6,6.7,6.8,6.9,7],
            "format": "~g",
            "labelPadding": 8,
            "title": "Horizontal tune νₓ",
            "titlePadding": 4
          }
        },
        "y": {
          "field": "y", "type": "quantitative",
          "scale": {"domain": [6, 7], "nice": false, "zero": false},
          "axis": {
            "orient": "left",
            "values": [6,6.1,6.2,6.3,6.4,6.5,6.6,6.7,6.8,6.9,7],
            "format": "~g",
            "labelPadding": 9,
            "title": "Vertical tune νᵧ",
            "titlePadding": 7
          }
        },
        "color": {"field": "d", "type": "quantitative", "scale": {"domain": [1, 2, 3], "range": ["#ff85ff", "#ff38ff", "#f200f2"]}, "legend": null},
        "size": {"field": "d", "type": "quantitative", "scale": {"domain": [1, 3], "range": [4, 10]}, "legend": null}
      }
    },
    {
      "data": {"name": "contours"},
      "mark": {"type": "line", "interpolate": "cardinal-closed", "stroke": "#0d0008", "strokeWidth": 1.1},
      "encoding": {
        "x": {"field": "x", "type": "quantitative"},
        "y": {"field": "y", "type": "quantitative"},
        "detail": {"field": "c", "type": "nominal"},
        "order": {"field": "o", "type": "quantitative"}
      }
    },
    {
      "data": {"name": "halfInteger"},
      "mark": {"type": "rule", "stroke": "black", "strokeWidth": 1, "strokeDash": [3, 2]},
      "encoding": {
        "x": {"field": "x", "type": "quantitative"},
        "y": {"field": "y", "type": "quantitative"},
        "x2": {"field": "x2"},
        "y2": {"field": "y2"}
      }
    },
    {
      "data": {"name": "resonances"},
      "mark": {"type": "rule", "stroke": "#0000ff", "strokeWidth": 3},
      "encoding": {
        "x": {"field": "x", "type": "quantitative"},
        "y": {"field": "y", "type": "quantitative"},
        "x2": {"field": "x2"},
        "y2": {"field": "y2"}
      }
    },
    {
      "data": {"name": "leaders"},
      "mark": {"type": "rule", "stroke": "black", "strokeWidth": 1},
      "encoding": {
        "x": {"field": "x", "type": "quantitative"},
        "y": {"field": "y", "type": "quantitative"},
        "x2": {"field": "x2"},
        "y2": {"field": "y2"}
      }
    },
    {
      "data": {"name": "tune"},
      "mark": {"type": "point", "shape": "circle", "filled": true, "color": "black", "opacity": 1, "size": 100},
      "encoding": {
        "x": {"field": "x", "type": "quantitative"},
        "y": {"field": "y", "type": "quantitative"}
      }
    },
    {
      "data": {"name": "notes"},
      "mark": {"type": "text", "font": "Liberation Sans", "fontWeight": "bold", "fontSize": 20, "color": "black", "align": "center", "baseline": "alphabetic", "lineBreak": "\n", "lineHeight": 22},
      "encoding": {
        "x": {"field": "x", "type": "quantitative"},
        "y": {"field": "y", "type": "quantitative"},
        "text": {"field": "t", "type": "nominal"}
      }
    },
    {
      "data": {"name": "frameTicks"},
      "mark": {"type": "rule", "stroke": "black", "strokeWidth": 1},
      "encoding": {
        "x": {"field": "x", "type": "quantitative"},
        "y": {"field": "y", "type": "quantitative"},
        "x2": {"field": "x2"},
        "y2": {"field": "y2"}
      }
    }
  ]
}
